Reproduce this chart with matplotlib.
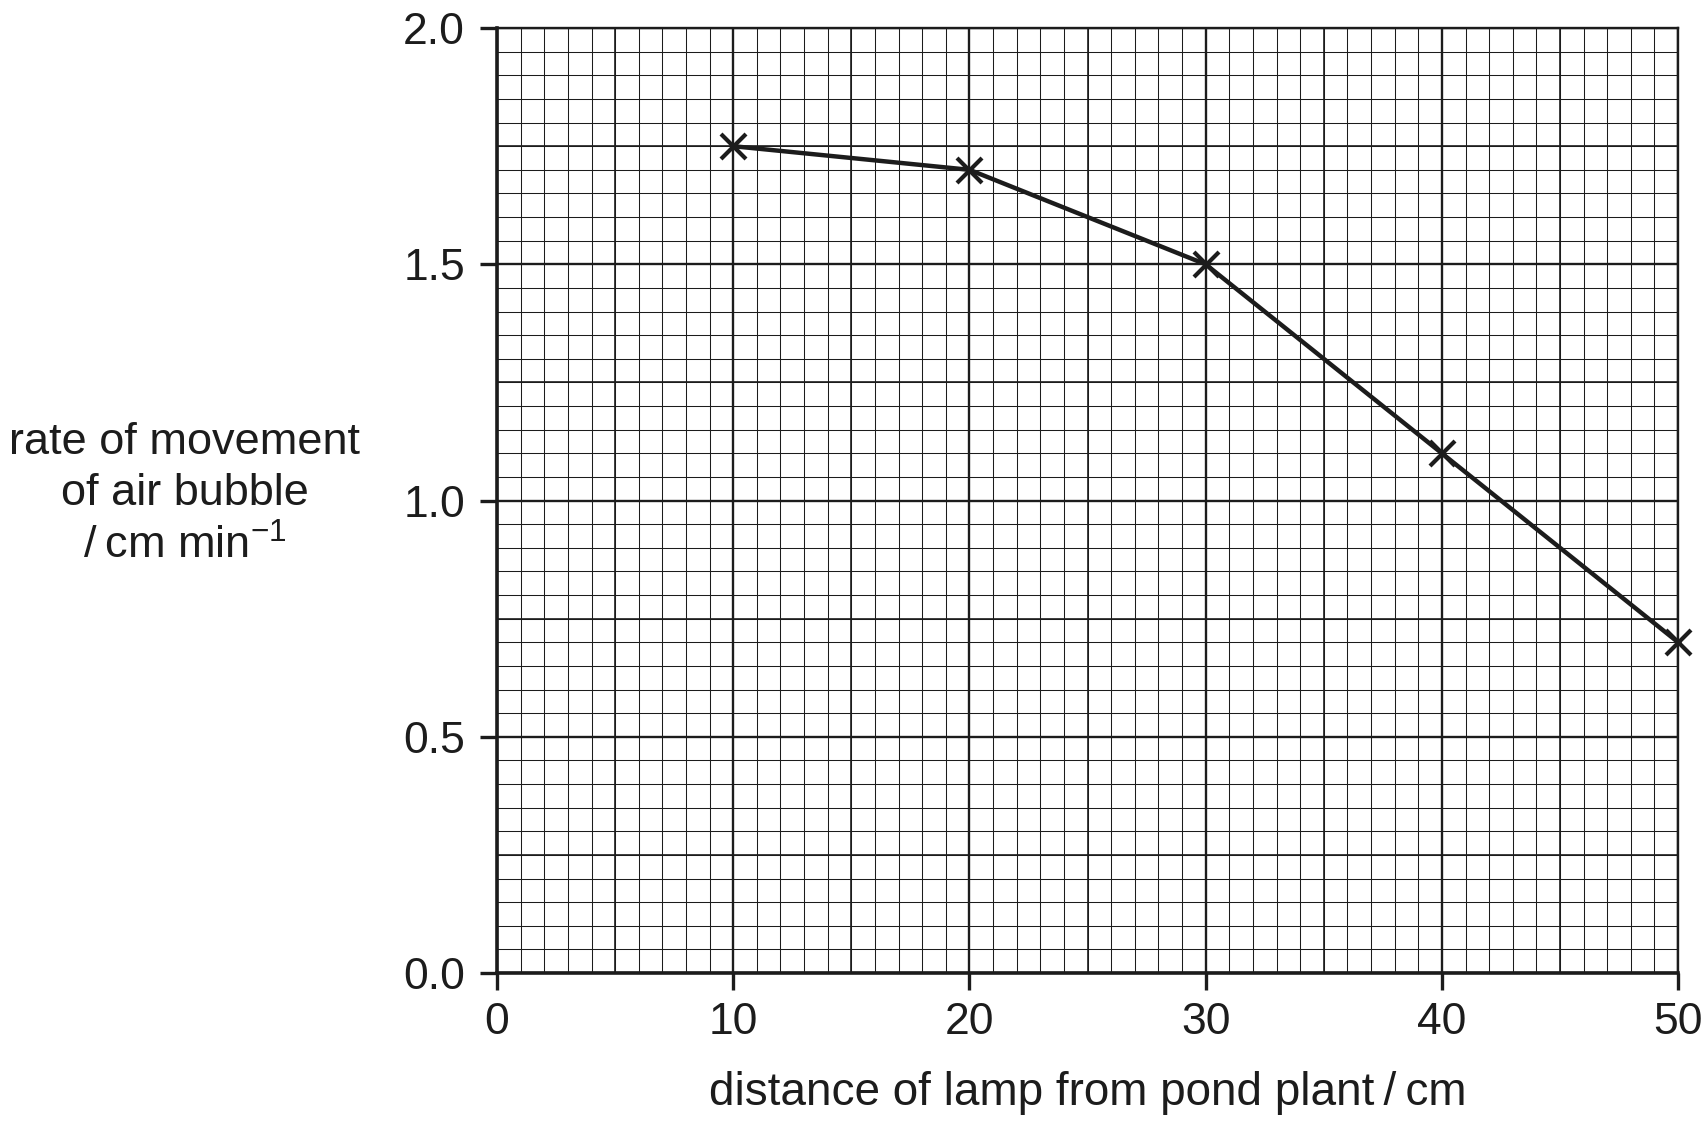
import matplotlib
matplotlib.use("Agg")
import matplotlib.pyplot as plt
import numpy as np

# data
distance_cm = [10, 20, 30, 40, 50]
rate_cm_per_min = [1.75, 1.70, 1.50, 1.10, 0.70]

x_ticks = [0, 10, 20, 30, 40, 50]
y_ticks = [0.0, 0.5, 1.0, 1.5, 2.0]
y_tick_labels = ["0.0", "0.5", "1.0", "1.5", "2.0"]

x_label = "distance of lamp from pond plant\u2009/\u2009cm"
y_label = "rate of movement\nof air bubble\n/\u2009cm min$^{-1}$"

plt.rcParams['font.family'] = ['Liberation Sans', 'DejaVu Sans']
plt.rcParams['mathtext.fontset'] = 'custom'
plt.rcParams['mathtext.rm'] = 'Liberation Sans'
plt.rcParams['mathtext.it'] = 'Liberation Sans'

ink = '#1c1c1c'

fig = plt.figure(figsize=(17.08, 11.27), dpi=100)
ax = fig.add_axes([0.291, 0.1366, 0.6915, 0.8385])

ax.set_xlim(0, 50)
ax.set_ylim(0, 2.0)

# graph paper: fine, medium, bold lines
ax.set_xticks(np.arange(0, 51, 1), minor=True)
ax.set_yticks(np.arange(0, 2.0001, 0.05), minor=True)
ax.grid(which='minor', color=ink, linewidth=0.75, zorder=1)
ax.vlines(np.arange(5, 50, 10), 0, 2.0, color=ink, linewidth=1.2, zorder=1.5)
ax.hlines(np.arange(0.25, 2.0, 0.5), 0, 50, color=ink, linewidth=1.2, zorder=1.5)

ax.set_xticks(x_ticks)
ax.set_yticks(y_ticks)
ax.set_yticklabels(y_tick_labels)
ax.grid(which='major', color=ink, linewidth=1.7, zorder=2)
ax.set_axisbelow(True)

ax.tick_params(which='minor', length=0)
ax.tick_params(which='major', direction='out', length=12, width=2.4,
               color=ink, labelsize=32, labelcolor=ink, pad=9)
ax.tick_params(axis='y', pad=11)

for side in ['left', 'bottom']:
    ax.spines[side].set_linewidth(2.6)
    ax.spines[side].set_color(ink)
for side in ['top', 'right']:
    ax.spines[side].set_linewidth(1.7)
    ax.spines[side].set_color(ink)

ax.plot(distance_cm, rate_cm_per_min, color=ink, linewidth=3.2,
        marker='x', markersize=18, markeredgewidth=3.0,
        clip_on=False, zorder=5)

ax.set_xlabel(x_label, fontsize=33, color=ink, labelpad=20)
fig.text(185 / 1708, 1 - 495 / 1127, y_label, fontsize=32.5, color=ink,
         ha='center', va='center', multialignment='center', linespacing=1.32)

fig.savefig("out.png", dpi=100, facecolor='white')
